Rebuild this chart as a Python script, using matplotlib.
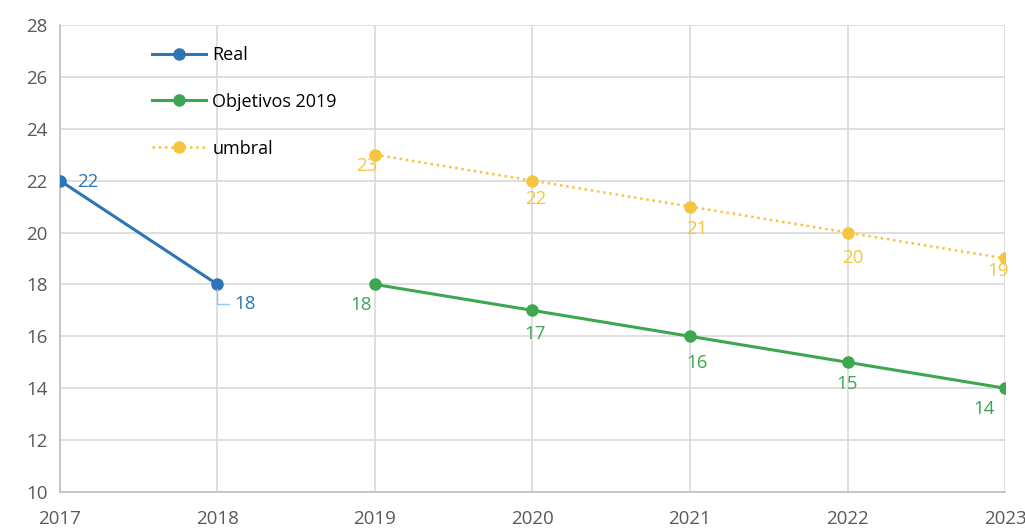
import matplotlib
matplotlib.use("Agg")
import matplotlib.pyplot as plt

years = [2017, 2018, 2019, 2020, 2021, 2022, 2023]
real_years = [2017, 2018]
real_vals = [22, 18]
obj_years = [2019, 2020, 2021, 2022, 2023]
obj_vals = [18, 17, 16, 15, 14]
umbral_years = [2019, 2020, 2021, 2022, 2023]
umbral_vals = [23, 22, 21, 20, 19]
y_ticks = [10, 12, 14, 16, 18, 20, 22, 24, 26, 28]

BLUE = "#2E75B6"
GREEN = "#3DA651"
YELLOW = "#F5C540"
GRID = "#D9D9D9"
TICK = "#595959"

plt.rcParams["font.family"] = ["Open Sans", "DejaVu Sans"]

fig = plt.figure(figsize=(10.25, 5.28), dpi=100)
ax = fig.add_axes([0.0585, 0.0682, 0.922, 0.8845])

ax.plot(real_years, real_vals, color=BLUE, lw=2.2, marker="o", ms=8, label="Real", zorder=3)
ax.plot(obj_years, obj_vals, color=GREEN, lw=2.2, marker="o", ms=8, label="Objetivos 2019", zorder=3)
ax.plot(umbral_years, umbral_vals, color=YELLOW, lw=1.8, ls=(0, (1, 1.5)), marker="o", ms=8,
        label="umbral", zorder=3)

ax.set_xlim(2017, 2023)
ax.set_ylim(10, 28)
ax.set_xticks(years)
ax.set_yticks(y_ticks)
ax.grid(True, color=GRID, lw=1.2)
ax.set_axisbelow(True)
for s in ["top", "right"]:
    ax.spines[s].set_visible(False)
for s in ["left", "bottom"]:
    ax.spines[s].set_color("#BFBFBF")
    ax.spines[s].set_linewidth(1.2)
ax.tick_params(length=0, labelsize=13.5, colors=TICK)
ax.tick_params(axis="y", pad=9)
ax.tick_params(axis="x", pad=13)

fs = 13.5
# data labels
ax.annotate(str(real_vals[0]), (real_years[0], real_vals[0]), xytext=(12, -1),
            textcoords="offset points", color=BLUE, fontsize=fs, ha="left", va="center")
ax.annotate(str(real_vals[1]), (real_years[1], real_vals[1]), xytext=(12, -14),
            textcoords="offset points", color=BLUE, fontsize=fs, ha="left", va="center",
            arrowprops=dict(arrowstyle="-", color="#9DC3E6", lw=1,
                            connectionstyle="angle,angleA=0,angleB=90,rad=0",
                            shrinkA=2, shrinkB=3))

obj_offsets = [(-10, -15), (2, -17), (5, -19), (0, -16), (-15, -15)]
for x, v, (dx, dy) in zip(obj_years, obj_vals, obj_offsets):
    ax.annotate(str(v), (x, v), xytext=(dx, dy), textcoords="offset points",
                color=GREEN, fontsize=fs, ha="center", va="center")

umb_offsets = [(-6, -8), (2, -13), (5, -16), (4, -18), (-5, -9)]
for x, v, (dx, dy) in zip(umbral_years, umbral_vals, umb_offsets):
    ax.annotate(str(v), (x, v), xytext=(dx, dy), textcoords="offset points",
                color=YELLOW, fontsize=fs, ha="center", va="center")

leg = ax.legend(loc="upper left", bbox_to_anchor=(0.08, 0.99), frameon=False,
                fontsize=13, labelspacing=1.6, handlelength=3.0, handletextpad=0.35)
for t in leg.get_texts():
    t.set_color("#000000")

fig.savefig("out.png", dpi=100, facecolor="white")
